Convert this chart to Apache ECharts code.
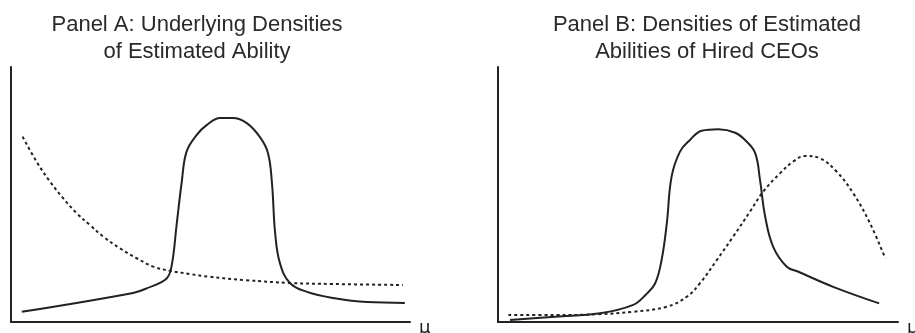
<!DOCTYPE html>
<html>
<head>
<meta charset="utf-8">
<script src="https://cdn.jsdelivr.net/npm/echarts@6/dist/echarts.min.js"></script>
<style>
html,body{margin:0;padding:0;background:#fff;}
#chart{width:915px;height:333px;}
</style>
</head>
<body>
<div id="chart"></div>
<script>
// Panel titles and axis name
var titleA = "Panel A: Underlying Densities\nof Estimated Ability";
var titleB = "Panel B: Densities of Estimated\nAbilities of Hired CEOs";
var axisName = "μ";

// Panel A (x = ability position 0..100, y = density 0..100)
var aSolidX = [2.7, 30.6, 34.0, 39.0, 40.3, 41.5, 42.8, 44.0, 46.5, 49.1, 52.4, 55.6, 59.1, 62.4, 64.4, 65.4, 66.2, 67.4, 69.9, 74.2, 80.7, 89.2, 98.7];
var aSolidY = [4.0, 11.4, 13.2, 17.1, 22.4, 38.0, 55.0, 66.8, 73.3, 77.3, 80.0, 80.0, 78.0, 72.5, 66.3, 54.5, 34.9, 23.1, 15.3, 11.8, 9.4, 7.8, 7.5];

var aDotX = [2.9, 6.4, 9.8, 13.1, 16.5, 19.8, 23.1, 27.3, 31.5, 35.7, 39.8, 44.9, 49.4, 59.0, 69.9, 80.7, 98.2];
var aDotY = [72.7, 62.9, 55.0, 48.5, 42.6, 38.0, 33.5, 28.9, 25.0, 21.7, 20.1, 18.8, 17.8, 16.4, 15.3, 14.9, 14.5];

// Panel B
var bSolidX = [3.0, 14.3, 25.5, 33.8, 37.0, 39.3, 40.9, 42.2, 43.4, 45.5, 48.0, 50.9, 55.1, 59.3, 62.0, 64.3, 65.5, 66.8, 68.8, 72.2, 75.1, 83.8, 95.3];
var bSolidY = [0.8, 2.1, 3.4, 6.7, 10.8, 15.2, 24.3, 38.7, 57.0, 66.8, 71.4, 75.0, 75.6, 74.2, 71.0, 66.2, 55.7, 41.3, 29.5, 21.7, 19.7, 13.8, 7.3];

var bDotX = [2.6, 14.3, 25.5, 33.8, 42.2, 47.2, 50.5, 54.7, 58.8, 63.0, 66.3, 70.5, 73.8, 76.8, 80.5, 84.7, 88.8, 93.0, 96.8];
var bDotY = [2.7, 2.7, 3.1, 4.0, 6.0, 9.9, 15.2, 24.3, 33.5, 43.3, 51.1, 58.3, 62.9, 65.1, 64.2, 58.9, 50.5, 38.7, 25.0];

function pairs(xs, ys) { return xs.map(function (x, i) { return [x, ys[i]]; }); }

var INK = '#222';
function xAx(idx) {
  return {
    type: 'value', gridIndex: idx, min: 0, max: 100,
    name: axisName, nameLocation: 'end', nameGap: 9,
    nameTextStyle: { fontSize: 18, color: INK, fontFamily: 'DejaVu Sans', verticalAlign: 'top', lineHeight: 12 },
    axisLine: { show: true, lineStyle: { color: INK, width: 2 } },
    axisTick: { show: false }, axisLabel: { show: false }, splitLine: { show: false }
  };
}
function yAx(idx) {
  return {
    type: 'value', gridIndex: idx, min: 0, max: 100,
    axisLine: { show: true, lineStyle: { color: INK, width: 2 } },
    axisTick: { show: false }, axisLabel: { show: false }, splitLine: { show: false }
  };
}
function line(idx, data, dashed) {
  return {
    type: 'line', xAxisIndex: idx, yAxisIndex: idx, data: data,
    smooth: 0.4, showSymbol: false, symbol: 'none', silent: true,
    lineStyle: { color: INK, width: 2, type: dashed ? [3, 3] : 'solid' }
  };
}

var chart = echarts.init(document.getElementById('chart'), null, { renderer: 'canvas' });
chart.setOption({
  animation: false,
  backgroundColor: '#fff',
  title: [
    { text: titleA, left: 197, top: 11, textAlign: 'center', padding: 0,
      textStyle: { fontSize: 22, fontWeight: 'normal', color: '#2a2a2a', fontFamily: 'Liberation Sans', lineHeight: 27 } },
    { text: titleB, left: 707, top: 11, textAlign: 'center', padding: 0,
      textStyle: { fontSize: 22, fontWeight: 'normal', color: '#2a2a2a', fontFamily: 'Liberation Sans', lineHeight: 27 } }
  ],
  grid: [
    { left: 11, right: 505, top: 67, bottom: 11, outerBoundsMode: 'none', containLabel: false },
    { left: 498, right: 17, top: 67, bottom: 11, outerBoundsMode: 'none', containLabel: false }
  ],
  xAxis: [xAx(0), xAx(1)],
  yAxis: [yAx(0), yAx(1)],
  series: [
    line(0, pairs(aSolidX, aSolidY), false),
    line(0, pairs(aDotX, aDotY), true),
    line(1, pairs(bSolidX, bSolidY), false),
    line(1, pairs(bDotX, bDotY), true)
  ]
});
</script>
</body>
</html>
